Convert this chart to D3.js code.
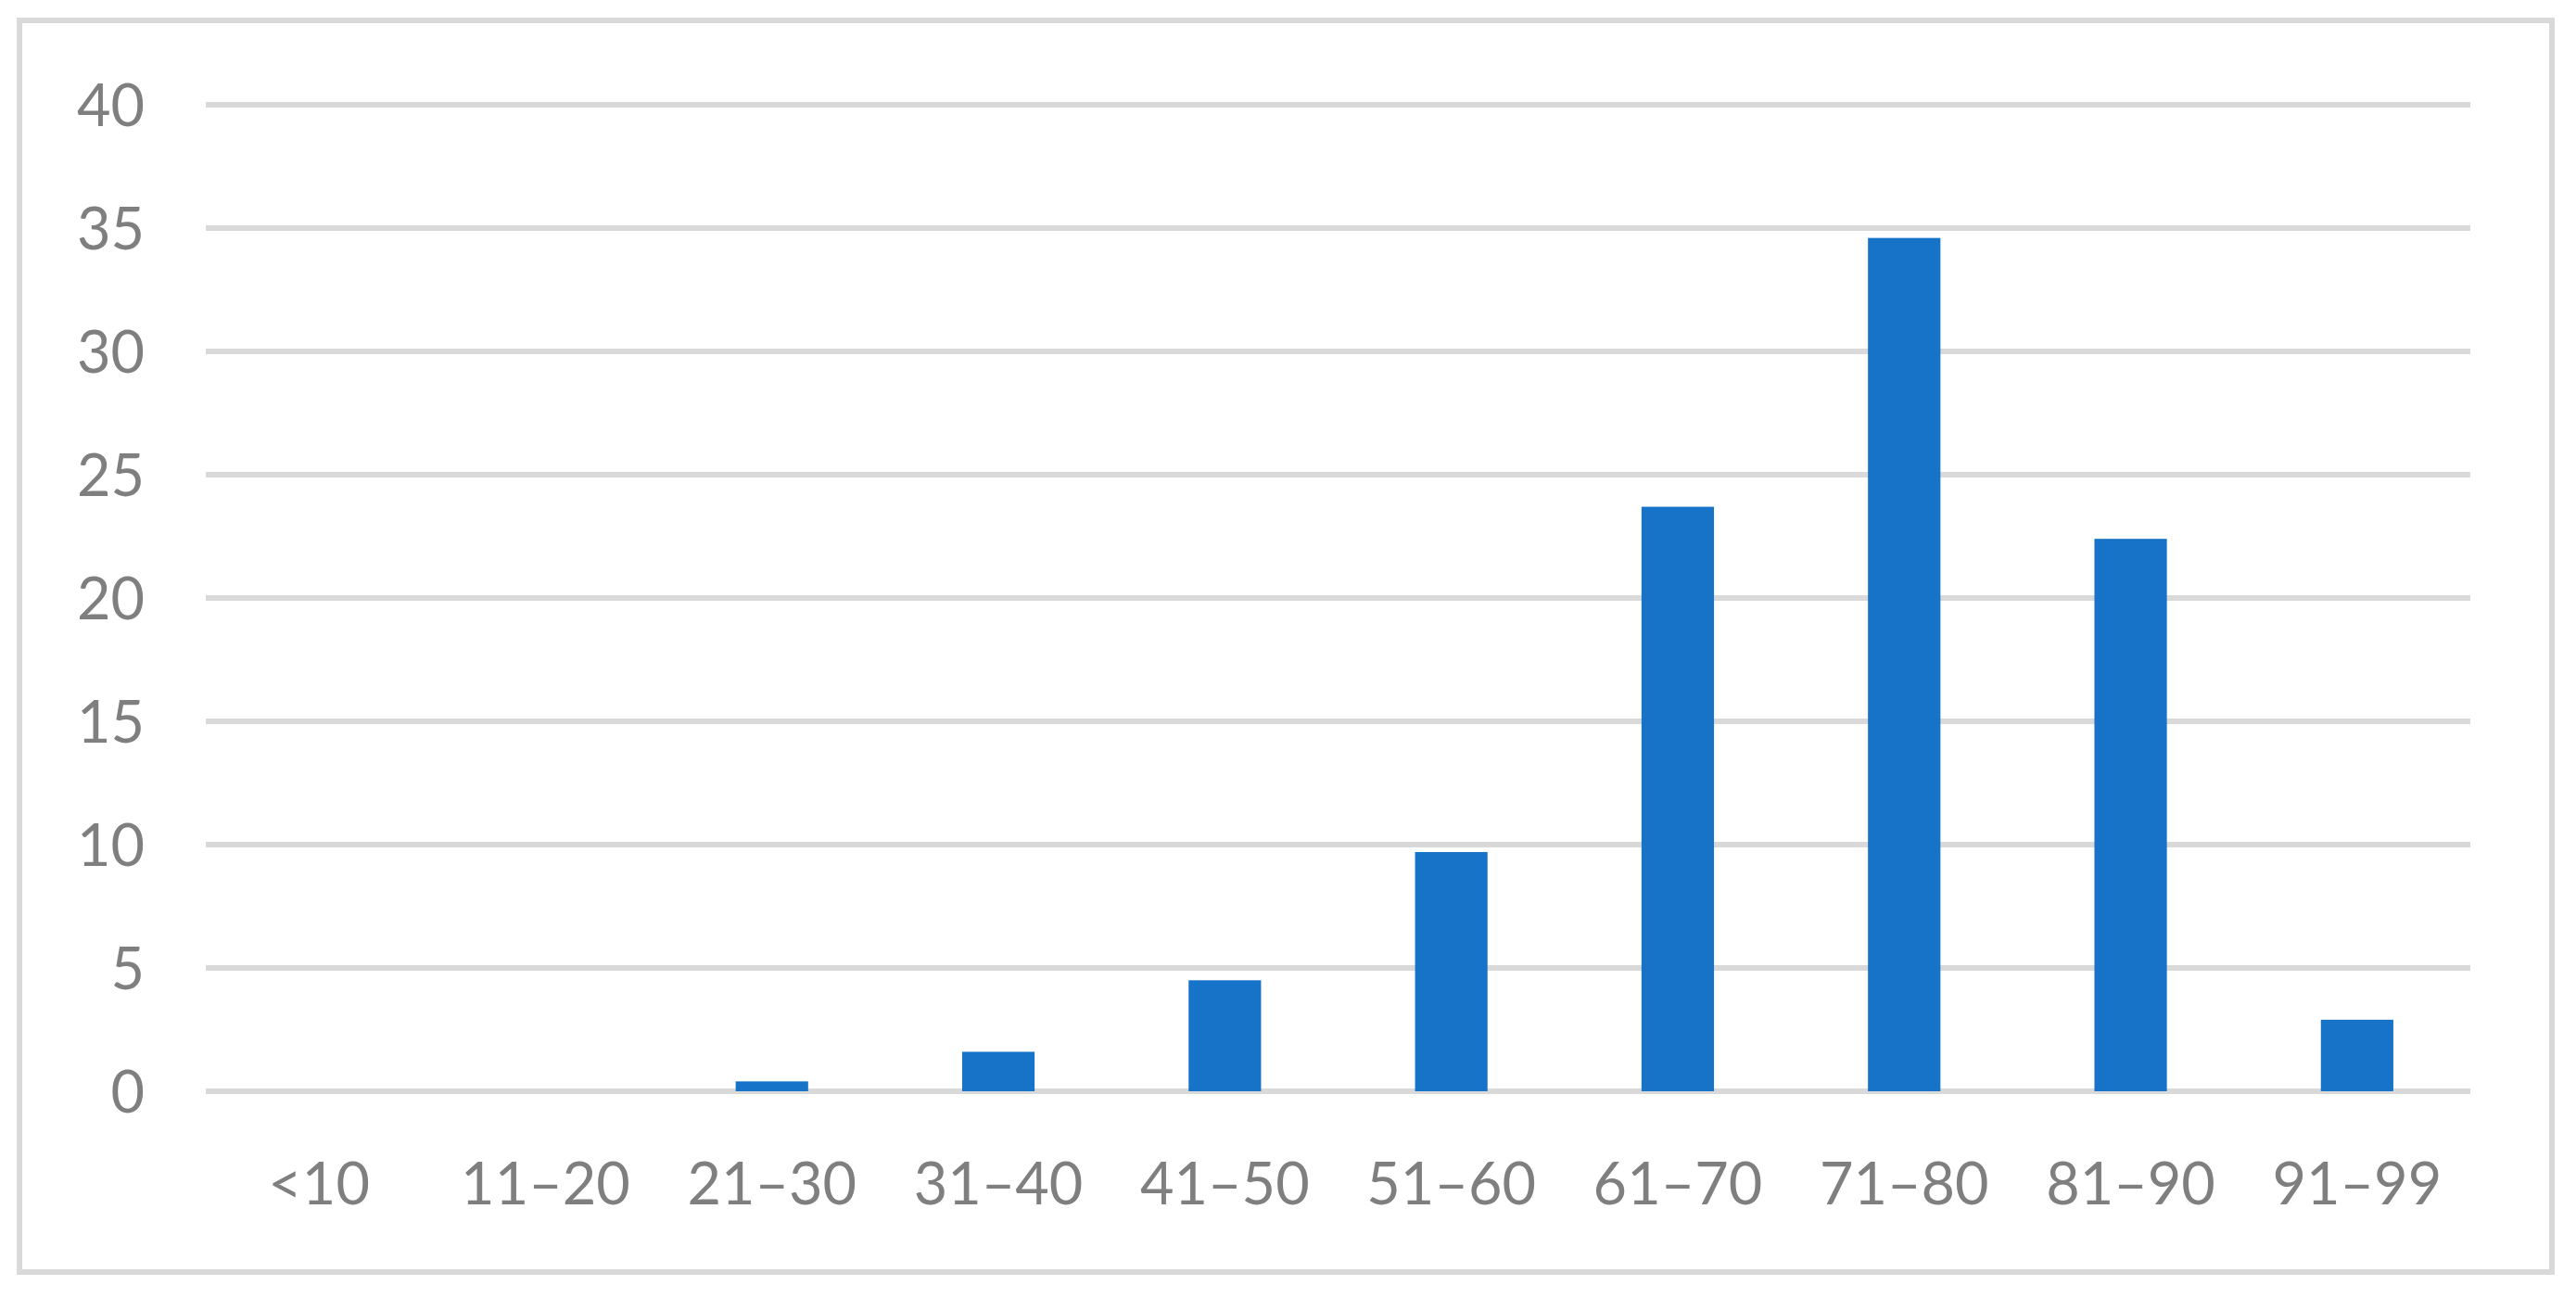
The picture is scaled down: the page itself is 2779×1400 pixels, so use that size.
<!DOCTYPE html>
<html>
<head>
<meta charset="utf-8">
<script src="https://cdn.jsdelivr.net/npm/d3@7"></script>
<style>
  body { margin: 0; background: #fff; }
  text { font-family: Lato, "Open Sans", sans-serif; fill: #7f7f7f; }
</style>
</head>
<body>
<div id="chart"></div>
<script>
var width = 2779,
    height = 1400;

var categories = ["<10", "11\u201320", "21\u201330", "31\u201340", "41\u201350", "51\u201360", "61\u201370", "71\u201380", "81\u201390", "91\u201399"];
var values = [0, 0, 0.4, 1.6, 4.5, 9.7, 23.7, 34.6, 22.4, 2.9];
var yTicks = [0, 5, 10, 15, 20, 25, 30, 35, 40];

var margin = {top: 113, right: 114, bottom: 223, left: 222};

var svg = d3.select("#chart")
    .append("svg")
    .attr("width", width)
    .attr("height", height);

// outer frame
svg.append("rect")
    .attr("x", 21).attr("y", 22)
    .attr("width", 2732).attr("height", 1350)
    .attr("fill", "none")
    .attr("stroke", "#d9d9d9")
    .attr("stroke-width", 6);

var x = d3.scaleBand()
    .domain(categories)
    .range([margin.left, width - margin.right])
    .paddingInner(0.68)
    .paddingOuter(0.34);

var y = d3.scaleLinear()
    .domain([0, 40])
    .range([height - margin.bottom, margin.top]);

// gridlines
svg.selectAll(".grid")
    .data(yTicks)
    .enter().append("line")
    .attr("class", "grid")
    .attr("x1", margin.left)
    .attr("x2", width - margin.right)
    .attr("y1", function (d) { return y(d); })
    .attr("y2", function (d) { return y(d); })
    .attr("stroke", "#d9d9d9")
    .attr("stroke-width", 6);

// y labels
svg.selectAll(".ylab")
    .data(yTicks)
    .enter().append("text")
    .attr("class", "ylab")
    .attr("x", 156)
    .attr("y", function (d) { return y(d); })
    .attr("dy", "0.36em")
    .attr("text-anchor", "end")
    .style("font-size", "63px")
    .text(function (d) { return d; });

// bars
svg.selectAll(".bars")
    .data(values)
    .enter().append("rect")
    .attr("class", "bars")
    .attr("x", function (d, i) { return x(categories[i]); })
    .attr("y", function (d) { return y(d); })
    .attr("width", x.bandwidth())
    .attr("height", function (d) { return y(0) - y(d); })
    .attr("fill", "#1773c8");

// x labels
svg.selectAll(".xlab")
    .data(categories)
    .enter().append("text")
    .attr("class", "xlab")
    .attr("x", function (d) { return x(d) + x.bandwidth() / 2; })
    .attr("y", 1276)
    .attr("dy", "0.36em")
    .attr("text-anchor", "middle")
    .style("font-size", "63px")
    .text(function (d) { return d; });
</script>
</body>
</html>
